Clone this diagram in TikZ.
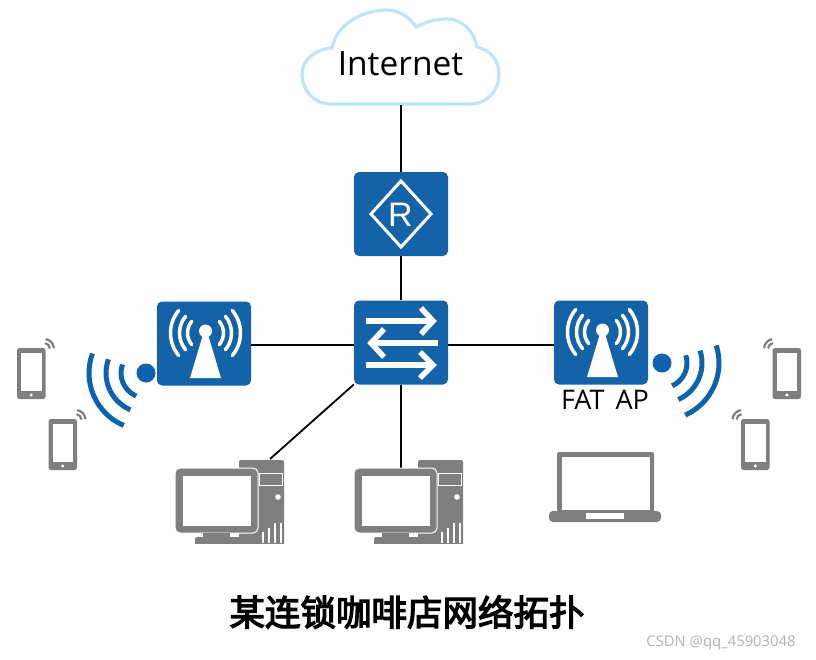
\documentclass[tikz,border=0pt]{standalone}
\usepackage{fontspec}
\usepackage{tikz}
\setmainfont{Open Sans}
\newfontfamily\cjk[FakeBold=3.5]{Noto Sans CJK SC}
\definecolor{boxblue}{HTML}{1462A8}
\definecolor{waveblue}{HTML}{0C62AE}
\definecolor{cloudblue}{HTML}{BDE6F5}
\definecolor{icongray}{HTML}{7F7F7F}
\tikzset{
  every pic/.style={yscale=-1},
  devicebox/.style={fill=boxblue,rounded corners=5pt,minimum width=94pt,minimum height=84pt,inner sep=0pt},
  link/.style={draw=black,line width=1.8pt},
  wave/.style={draw=waveblue,line width=5pt},
  mast/.style={draw=white,line width=3.5pt,line cap=round},
  pics/antenna/.style={code={
    \fill[white] (0,0) circle (6.5);
    \fill[white] (-2,2)--(2,2)--(15.5,47)--(-15.5,47)--cycle;
    \foreach \r in {18,26,35} {
      \draw[mast] (0,2) ++(140:\r) arc (140:220:\r);
      \draw[mast] (0,2) ++(-40:\r) arc (-40:40:\r);
    }
  }},
  pics/signal/.style 2 args={code={
    \fill[waveblue] (0,0) circle (9.5);
    \foreach \r in {25,40,57} {
      \draw[wave] (#1:\r) arc (#1:#2:\r);
    }
  }},
  pics/phone/.style={code={
    \fill[icongray,rounded corners=2.5pt] (0,0) rectangle (28.5,51);
    \fill[white] (4,5) rectangle (24.5,43);
    \fill[white] (14.2,47) circle (1.7);
    \draw[icongray,line width=2.2pt] (27,1) ++(-80:6) arc (-80:-5:6);
    \draw[icongray,line width=2.2pt] (27,1) ++(-80:10) arc (-80:-5:10);
  }},
  pics/desktop/.style={code={
    \begin{scope}
    \clip (-5,-5) rectangle (120,83);
    \fill[icongray,rounded corners=2pt] (64,0) rectangle (109,90);
    \draw[white,line width=1pt] (84,13) rectangle (107,25);
    \fill[white] (103,37) circle (2.8);
    \foreach \x/\y in {88/72,94/68,100/63,106/63} {
      \draw[white,line width=1.5pt] (\x,\y) -- (\x,83);
    }
    \fill[icongray,draw=white,line width=1pt,rounded corners=5pt] (0,8) rectangle (83,73);
    \fill[white] (8,16) rectangle (76,66);
    \fill[icongray] (28,73) rectangle (55,78);
    \fill[icongray,rounded corners=2pt] (20,77) rectangle (65,90);
    \end{scope}
  }},
  pics/laptop/.style={code={
    \fill[icongray,rounded corners=2pt] (8,0) rectangle (105,60);
    \fill[white] (12.5,5) rectangle (101,58);
    \fill[icongray,rounded corners=4pt] (0,59) rectangle (112,70);
    \fill[white] (37,61) rectangle (75,67);
  }}
}
\begin{document}
\begin{tikzpicture}[x=1pt,y=1pt,yscale=-1]
\useasboundingbox (0,0) rectangle (816,659);
\draw[cloudblue,line width=3.2pt] (330,104) .. controls (314,104) and (302,90) .. (302,74)
  .. controls (302,60) and (315,49) .. (332,48) .. controls (336,26) and (360,10) .. (387,10)
  .. controls (398,10) and (410,17) .. (416,27) .. controls (425,22) and (436,19) .. (447,19)
  .. controls (462,19) and (474,31) .. (477,47) .. controls (490,50) and (499,60) .. (499,74)
  .. controls (499,91) and (487,104) .. (470,104) -- cycle;
\node[inner sep=0pt,font=\fontsize{33.5}{38}\selectfont] (internet) at (400.5,64) {Internet};
\coordinate (cloudfoot) at (401,105);
\node[devicebox] (router) at (401,214) {};
\node[devicebox] (switch) at (401,342.5) {};
\node[devicebox] (apleft) at (204,343.5) {};
\node[devicebox] (apright) at (601,342.5) {};
\coordinate (pcalink) at (270,459);
\coordinate (pcblink) at (401,468);
\draw[link] (cloudfoot) -- (router);
\draw[link] (router) -- (switch);
\draw[link] ([yshift=1.5pt]apleft.east) -- ([yshift=2.5pt]switch.west);
\draw[link] ([yshift=2.5pt]switch.east) -- ([yshift=2.5pt]apright.west);
\draw[link] (switch) -- (pcalink);
\draw[link] (switch) -- (pcblink);
\draw[white,line width=3pt] (401,181) -- (431,214) -- (401,247) -- (371,214) -- cycle;
\node[text=white,inner sep=0pt,font=\fontsize{34}{38}\selectfont\fontspec{Liberation Sans}] (routerR) at (400.5,215) {R};
\foreach \y/\tipx/\tailx in {321/433/366,343/371/438,365/433/366} {
  \draw[white,line width=5.5pt] (\tailx,\y) -- (\tipx,\y);
}
\draw[white,line width=5.5pt,line join=miter] (421,308) -- (433,321) -- (421,334);
\draw[white,line width=5.5pt,line join=miter] (384,329) -- (371,343) -- (384,357);
\draw[white,line width=5.5pt,line join=miter] (420,352) -- (433,365) -- (420,378);
\pic at (205.5,331) {antenna};
\pic at (602.5,330) {antenna};
\pic at (146,373) {signal={113}{200}};
\pic[xscale=-1] at (662,363) {signal={114}{198}};
\pic at (17,348) {phone};
\pic at (48.5,419) {phone};
\pic[xscale=-1] at (801,348) {phone};
\pic[xscale=-1] at (769.5,419) {phone};
\pic at (175,460) {desktop};
\pic at (354,460) {desktop};
\pic at (549,452) {laptop};
\node[inner sep=0pt,font=\fontsize{27}{32}\selectfont] (fatap) at (605,400) {FAT\hspace{.15em} AP};
\node[inner sep=0pt,font=\cjk\fontsize{35.5}{40}\selectfont] (title) at (407,612) {某连锁咖啡店网络拓扑};
\node[inner sep=0pt,text=black!30,font=\fontsize{14.8}{17}\selectfont] (mark) at (721,643) {CSDN @qq\_45903048};
\end{tikzpicture}
\end{document}
